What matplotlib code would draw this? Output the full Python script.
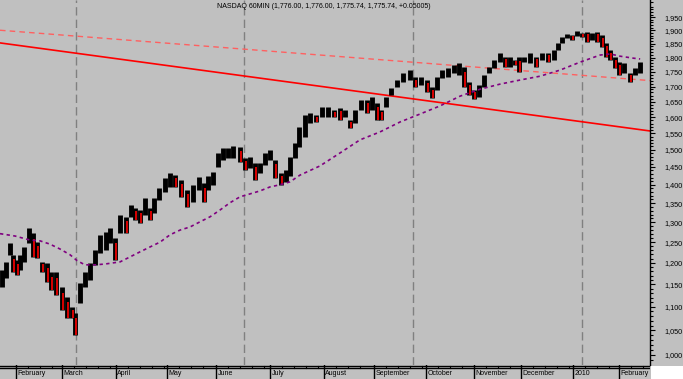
import matplotlib
matplotlib.use("Agg")
import matplotlib.pyplot as plt
import numpy as np
from matplotlib.ticker import FixedLocator, NullFormatter, FuncFormatter
from matplotlib.patches import Rectangle

plt.rcParams['font.family'] = ['Liberation Sans', 'DejaVu Sans']

# ---------------- data ----------------
title = "NASDAQ 60MIN (1,776.00, 1,776.00, 1,775.74, 1,775.74, +0.05005)"

# trading-day position of each price sample
day = [0.8, 2.5, 4.2, 5.4, 7.1, 8.3, 10.0, 12.1, 13.8, 15.4,
       17.5, 19.6, 21.3, 23.3, 25.8, 27.9, 30.0, 31.3, 33.3, 35.4,
       37.5, 39.6, 41.7, 44.2, 45.8, 47.9, 50.0, 52.5, 54.6, 56.3,
       58.3, 60.4, 62.5, 64.2, 66.3, 68.8, 70.8, 72.9, 75.4, 77.9,
       80.4, 82.9, 85.0, 86.7, 88.8, 90.8, 92.9, 95.0, 97.1, 100.0,
       102.1, 104.2, 106.3, 108.3, 110.4, 112.5, 114.6, 117.1, 119.2, 120.8,
       122.9, 124.6, 127.1, 129.2, 131.7, 134.2, 136.7, 139.2, 141.7, 143.8,
       145.8, 147.9, 150.4, 152.9, 155.0, 157.1, 158.8, 160.8, 162.9, 165.4,
       167.9, 170.8, 172.9, 175.4, 177.9, 180.0, 182.1, 184.2, 186.7, 189.2,
       191.3, 193.3, 195.4, 197.5, 199.6, 201.7, 203.8, 205.8, 208.3, 210.4,
       212.5, 214.6, 216.3, 218.3, 220.8, 223.3, 225.8, 228.3, 230.8, 232.5,
       234.2, 236.3, 238.3, 240.4, 242.5, 244.6, 246.7, 248.8, 250.8, 252.5,
       254.2, 256.3, 257.9, 260.0, 262.5, 264.6, 266.7]

high = [1183, 1202, 1248, 1219, 1207, 1219, 1238, 1285, 1273, 1250,
        1202, 1200, 1178, 1178, 1144, 1121, 1099, 1087, 1153, 1178,
        1200, 1231, 1268, 1275, 1285, 1260, 1319, 1314, 1345, 1337,
        1332, 1364, 1337, 1364, 1391, 1419, 1433, 1427, 1413, 1386,
        1400, 1422, 1405, 1424, 1435, 1491, 1506, 1506, 1512, 1509,
        1476, 1479, 1461, 1461, 1491, 1500, 1470, 1433, 1441, 1479,
        1521, 1569, 1607, 1613, 1607, 1633, 1633, 1623, 1629, 1623,
        1591, 1623, 1655, 1655, 1665, 1645, 1623, 1665, 1695, 1722,
        1746, 1756, 1732, 1732, 1722, 1698, 1732, 1756, 1763, 1774,
        1781, 1767, 1715, 1688, 1705, 1739, 1767, 1791, 1816, 1802,
        1802, 1791, 1802, 1802, 1816, 1802, 1816, 1816, 1827, 1853,
        1875, 1886, 1883, 1897, 1890, 1894, 1890, 1894, 1883, 1853,
        1827, 1802, 1784, 1781, 1746, 1763, 1784]

low = [1144, 1165, 1219, 1178, 1171, 1183, 1202, 1248, 1214, 1212,
       1178, 1155, 1137, 1126, 1093, 1076, 1076, 1040, 1108, 1144,
       1160, 1195, 1224, 1231, 1248, 1207, 1273, 1273, 1314, 1306,
       1298, 1319, 1306, 1324, 1359, 1380, 1394, 1394, 1367, 1340,
       1353, 1386, 1353, 1386, 1400, 1450, 1470, 1476, 1476, 1464,
       1441, 1447, 1413, 1433, 1456, 1470, 1419, 1400, 1408, 1424,
       1476, 1509, 1539, 1581, 1585, 1601, 1601, 1601, 1591, 1601,
       1566, 1582, 1623, 1613, 1623, 1591, 1591, 1633, 1671, 1698,
       1715, 1722, 1698, 1705, 1681, 1661, 1688, 1729, 1732, 1746,
       1739, 1698, 1671, 1658, 1664, 1698, 1746, 1763, 1784, 1767,
       1767, 1774, 1749, 1784, 1781, 1767, 1791, 1784, 1791, 1827,
       1853, 1872, 1864, 1879, 1875, 1857, 1864, 1857, 1838, 1802,
       1791, 1763, 1739, 1746, 1715, 1739, 1746]

# moving average (purple dotted)
ma_day = [0, 6.3, 12.5, 16.7, 20.8, 25.0, 29.2, 32.1, 35.4, 39.6, 43.8, 50.0,
          54.2, 58.3, 62.5, 66.7, 70.8, 75.0, 79.2, 83.3, 87.5, 91.7, 95.8,
          100.0, 104.2, 108.3, 112.5, 116.7, 120.8, 125.0, 133.3, 141.7, 150.0,
          158.3, 166.7, 175.0, 183.3, 191.7, 200.0, 208.3, 216.7, 225.0, 233.3,
          241.7, 250.0, 254.2, 258.3, 263.8, 266.7]
ma_val = [1271, 1265, 1255, 1253, 1245, 1233, 1219, 1205, 1195, 1195, 1197, 1202,
          1214, 1226, 1238, 1250, 1268, 1280, 1288, 1301, 1314, 1332, 1351,
          1367, 1375, 1383, 1394, 1400, 1408, 1427, 1453, 1491, 1530,
          1554, 1585, 1610, 1636, 1668, 1691, 1708, 1722, 1735, 1756,
          1784, 1809, 1813, 1805, 1798, 1795]

# trend lines
solid_trend_day = [0, 270.8]
solid_trend_val = [1853, 1557]
dashed_trend_day = [0, 270.8]
dashed_trend_val = [1900, 1720]

month_labels = ["February", "March", "April", "May", "June", "July", "August",
                "September", "October", "November", "December", "2010", "February"]
month_start = [6.7, 25.8, 48.3, 69.6, 90.0, 112.5, 135.0, 155.8, 177.5,
               197.5, 217.1, 238.8, 257.9]
grid_days = [31.7, 101.7, 172.1, 242.5]
y_ticks = list(range(1000, 2000, 50))
x_range = (0, 270.8)
y_range = (980.4, 2017)

# ---------------- figure ----------------
BG = '#C0C0C0'
W, H = 683, 379
fig = plt.figure(figsize=(W / 100, H / 100), dpi=100, facecolor=BG)
ax = fig.add_axes([0, 14 / H, 650 / W, 365 / H])
ax.set_facecolor(BG)
ax.set_yscale('log')
ax.set_xlim(*x_range)
ax.set_ylim(*y_range)

for s in ['top', 'left', 'bottom']:
    ax.spines[s].set_visible(False)
ax.spines['right'].set_color('black')
ax.spines['right'].set_linewidth(1.0)

ax.yaxis.tick_right()
ax.yaxis.set_major_locator(FixedLocator(y_ticks))
ax.yaxis.set_major_formatter(FuncFormatter(lambda v, p: f"{int(round(v)):,}"))
minor = [v for v in range(980, 2020, 10) if v % 50 != 0]
ax.yaxis.set_minor_locator(FixedLocator(minor))
ax.yaxis.set_minor_formatter(NullFormatter())
ax.tick_params(axis='y', which='major', direction='out', length=3.5, width=0.8,
               labelsize=5.2, pad=7, colors='black')
ax.tick_params(axis='y', which='minor', direction='out', length=2, width=0.8)
ax.set_xticks([])

for g in grid_days:
    ax.axvline(g, color='#808080', lw=1.0, ls=(0, (6, 3)), zorder=1)

# trend lines
ax.plot(dashed_trend_day, dashed_trend_val, color='#FF6060', lw=1.0,
        ls=(0, (4, 3)), zorder=2)
ax.plot(solid_trend_day, solid_trend_val, color='#FF0000', lw=1.2, zorder=2)

# price bars
day_a = np.array(day)
hi = np.array(high, dtype=float)
lo = np.array(low, dtype=float)
mid = (hi + lo) / 2
ax.vlines(day_a, lo, hi, color='black', lw=3.5, zorder=3)
down = np.r_[False, mid[1:] < mid[:-1]]
ax.vlines(day_a[down] + 0.5, lo[down], (mid[down] + hi[down]) / 2,
          color='#FF0000', lw=1.2, zorder=4)

# moving average
ax.plot(ma_day, ma_val, color='#800080', lw=1.2, ls=(0, (2, 2)), zorder=5)

# title
fig.text(324 / W, 1 - 7 / H, title, ha='center', va='center', fontsize=5,
         color='black')

# date band
axd = fig.add_axes([0, 0, 650 / W, 14 / H])
axd.set_xlim(*x_range)
axd.set_ylim(0, 14)
axd.axis('off')
axd.axhline(13.5, color='black', lw=1.0)
axd.axhline(10.8, color='black', lw=1.0)
for i, m in enumerate(month_start):
    axd.plot([m, m], [0, 14], color='black', lw=1.0)
    nxt = month_start[i + 1] if i + 1 < len(month_start) else x_range[1]
    for k in np.arange(m + 5, nxt - 1, 5):
        axd.plot([k, k], [10.8, 13.5], color='black', lw=0.8)
    axd.text(m + 0.6, 5.3, month_labels[i], fontsize=5, ha='left', va='center',
             color='black')

fig.patches.append(Rectangle((651 / W, 0), 32 / W, 13 / H, transform=fig.transFigure,
                             facecolor='white', edgecolor='none'))

fig.savefig('out.png', dpi=100, facecolor=BG)
